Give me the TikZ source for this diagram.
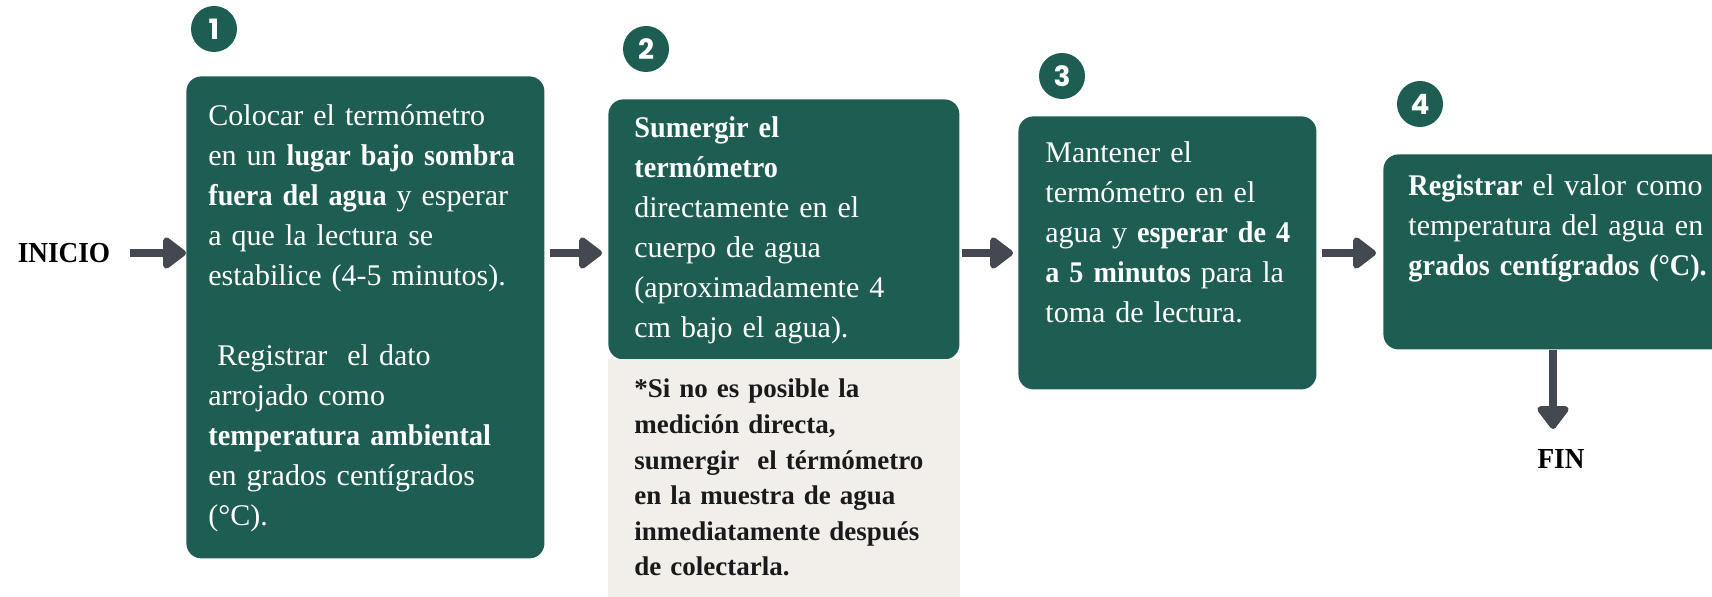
\documentclass[tikz,border=0pt]{standalone}
\usepackage{fontspec}
\setmainfont{Liberation Serif}[BoldFeatures={FakeStretch=0.94}]
\newfontfamily\notafont{Liberation Serif}
\newfontfamily\numfont{Poppins}
\usetikzlibrary{arrows.meta,positioning}
\definecolor{verde}{HTML}{1E5E52}
\definecolor{gris}{HTML}{434851}
\definecolor{crema}{HTML}{F2EFEA}
\definecolor{tinta}{HTML}{1A1A1A}
\tikzset{
  caja/.style={fill=verde, rounded corners=7.5pt, anchor=north west, inner sep=0pt},
  nota/.style={fill=crema, anchor=north west, inner sep=0pt},
  texto/.style={text=white, anchor=base west, inner sep=0pt, text width=200pt, align=left,
    font=\fontsize{15}{20}\selectfont},
  textonota/.style={text=tinta, anchor=base west, inner sep=0pt, text width=200pt, align=left,
    font=\notafont\bfseries\fontsize{13.5}{17.8}\selectfont},
  numero/.style={circle, fill=verde, text=white, minimum size=23pt, inner sep=0pt,
    font=\numfont\bfseries\fontsize{14}{14}\selectfont},
  extremo/.style={inner sep=0pt, font=\bfseries\fontsize{14.5}{16}\selectfont},
  flecha/.style={gris, line width=4pt, -{Triangle[length=12.5pt,width=18pt,round]}}
}
\begin{document}
\begin{tikzpicture}[x=0.5pt,y=-0.5pt]
\useasboundingbox (0,0) rectangle (1712,597);
% cajas
\node[caja, minimum width=179pt, minimum height=241pt] (caja1) at (186,76) {};
\node[caja, minimum width=175.5pt, minimum height=130pt] (caja2) at (608,99) {};
\node[nota, minimum width=176pt, minimum height=125pt] (cajanota) at (608,359) {};
\node[caja, minimum width=149pt, minimum height=136.5pt] (caja3) at (1018,116) {};
\node[caja, minimum width=181pt, minimum height=97.5pt] (caja4) at (1383,154) {};
%
\node[numero] (num1) at (214,29) {1};
\node[numero] (num2) at (646,49) {2};
\node[numero] (num3) at (1062,76) {3};
\node[numero] (num4) at (1420,104) {4};
%
\node[texto] (texto1) at (208,126) {Colocar el termómetro\\
  en un \textbf{lugar bajo sombra}\\
  \textbf{fuera del agua} y esperar\\
  a que la lectura se\\
  estabilice (4-5 minutos).\\[20pt]
  \hspace{0.3em}Registrar\ \ el dato\\
  arrojado como\\
  \textbf{temperatura ambiental}\\
  en grados centígrados\\
  (°C).};
\node[texto] (texto2) at (634,138) {\textbf{Sumergir el}\\
  \textbf{termómetro}\\
  directamente en el\\
  cuerpo de agua\\
  (aproximadamente 4\\
  cm bajo el agua).};
\node[textonota] (textonota) at (634,398) {*Si no es posible la\\
  medición directa,\\
  sumergir\ \ el térmómetro\\
  en la muestra de agua\\
  inmediatamente después\\
  de colectarla.};
\node[texto] (texto3) at (1045,163) {Mantener el\\
  termómetro en el\\
  agua y \textbf{esperar de 4}\\
  \textbf{a 5 minutos} para la\\
  toma de lectura.};
\node[texto] (texto4) at (1408,196) {\textbf{Registrar} el valor como\\
  temperatura del agua en\\
  \textbf{grados centígrados (°C).}};
%
\node[extremo] (inicio) at (64,253) {INICIO};
\node[extremo] (fin) at (1561,459) {FIN};
\coordinate (finflecha) at (1553,429);
%
\draw[flecha, shorten <=9.5pt] (inicio.east) -- (inicio.east -| caja1.west);
\draw[flecha] ([xshift=2.5pt]caja1.east |- inicio) -- ([xshift=-3pt]caja2.west |- inicio);
\draw[flecha] ([xshift=1pt]caja2.east |- inicio) -- ([xshift=-2.5pt]caja3.west |- inicio);
\draw[flecha] ([xshift=2.5pt]caja3.east |- inicio) -- ([xshift=-3.5pt]caja4.west |- inicio);
\draw[flecha] (caja4.south -| finflecha) -- (finflecha);
\end{tikzpicture}
\end{document}
